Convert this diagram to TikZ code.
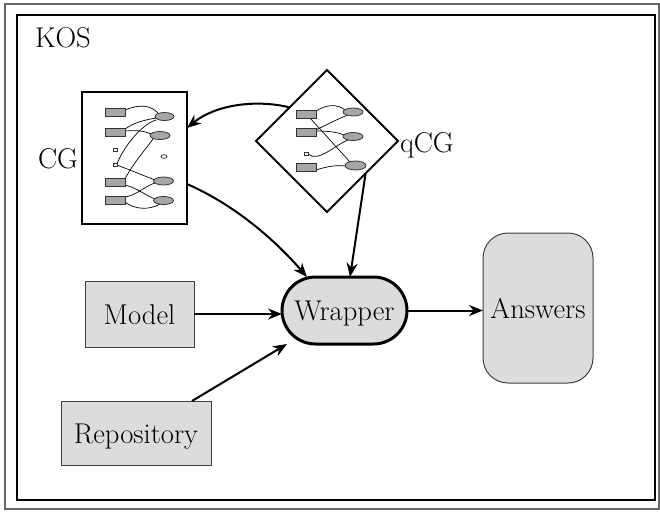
\documentclass[tikz,border=0pt]{standalone}
\usetikzlibrary{arrows.meta,shapes.geometric,calc}
\definecolor{boxfill}{HTML}{DCDCDC}
\definecolor{smallfill}{HTML}{A6A6A6}
\begin{document}
\begin{tikzpicture}[x=1pt,y=-1pt,
  every node/.style={font=\rmfamily\fontsize{28.6}{34}\selectfont, inner sep=0pt, outer sep=0pt},
  plainbox/.style={draw=black!75, line width=1pt, fill=boxfill, text height=20pt, text depth=0pt},
  arr/.style={line width=2pt, -{Stealth[length=14pt,width=11pt]}},
  gr/.style={draw=black!80, line width=0.8pt, fill=smallfill},
  ge/.style={line width=0.7pt},
]
\useasboundingbox (0,0) rectangle (660,512);
% frames
\draw[black!60, line width=1.5pt] (5,4) rectangle (659,509);
\draw[line width=2.2pt] (17,15) rectangle (655,500);
\node[anchor=base west] (kos) at (35,47) {KOS};

% CG box
\node[draw, line width=2pt, minimum width=105pt, minimum height=132pt, fill=white] (cg) at (134.5,158) {};
\node[anchor=base east] (cglab) at (78,168) {CG};
% CG inner graph
\draw[ge] (125,110) .. controls (140,104) and (150,105) .. (158,113);
\draw[ge] (125,129) .. controls (135,122) and (145,120) .. (156,118);
\draw[ge] (125,131) .. controls (137,130) and (145,131) .. (151,134);
\draw[ge] (156,120) .. controls (140,125) and (122,150) .. (117,164);
\draw[ge] (153,139) .. controls (145,150) and (132,165) .. (125,179);
\draw[ge] (117,165) -- (155,180);
\draw[ge] (125,185) .. controls (137,188) and (145,195) .. (155,199);
\draw[ge] (125,197) .. controls (137,195) and (145,186) .. (155,183);
\draw[ge] (125,202) .. controls (135,210) and (150,210) .. (160,204);
\draw[gr] (105,108) rectangle (125,116);
\draw[gr] (105,128) rectangle (125,136);
\draw[gr] (105,178) rectangle (125,186);
\draw[gr] (105,196) rectangle (125,204);
\draw[draw=black!80, line width=0.8pt, fill=white] (113,148) rectangle (117,151);
\draw[draw=black!80, line width=0.8pt, fill=white] (113,163.5) rectangle (117,166.5);
\draw[gr] (164.5,116.5) ellipse [x radius=9.5pt, y radius=4pt];
\draw[gr] (160,135.5) ellipse [x radius=10pt, y radius=4pt];
\draw[draw=black!80, line width=0.8pt, fill=white] (164,156.5) ellipse [x radius=3pt, y radius=1.8pt];
\draw[gr] (163.5,181) ellipse [x radius=10pt, y radius=4pt];
\draw[gr] (163.5,200.5) ellipse [x radius=10pt, y radius=4pt];

% qCG diamond
\node[draw, diamond, line width=2pt, minimum width=142pt, minimum height=142pt, fill=white] (qcg) at (327,141) {};
\node[anchor=base west] (qcglab) at (400,152) {qCG};
% qCG inner graph
\draw[ge] (316,111) .. controls (327,104) and (338,104) .. (345,110);
\draw[ge] (310,118) -- (350,162);
\draw[ge] (316,130) .. controls (328,124) and (340,118) .. (348,115);
\draw[ge] (316,131) .. controls (328,131) and (337,132) .. (344,135);
\draw[ge] (308,154) .. controls (318,163) and (335,145) .. (348,140);
\draw[ge] (316,170) .. controls (328,166) and (338,165) .. (345,166);
\draw[gr] (296,110) rectangle (316,118);
\draw[gr] (296,128) rectangle (316,136);
\draw[gr] (296,163) rectangle (316,171);
\draw[draw=black!80, line width=0.8pt, fill=white] (304,152) rectangle (308,155);
\draw[gr] (353,112) ellipse [x radius=10pt, y radius=4pt];
\draw[gr] (353,136.5) ellipse [x radius=10pt, y radius=4pt];
\draw[gr] (355.5,165.5) ellipse [x radius=10.5pt, y radius=4.5pt];

% main boxes
\node[plainbox, minimum width=109pt, minimum height=66pt] (model) at (139.5,314) {Model};
\node[plainbox, minimum width=150pt, minimum height=64pt] (repo) at (136,433) {Repository};
\node[plainbox, draw=black, line width=3pt, rounded corners=33.5pt, minimum width=125pt, minimum height=67pt] (wr) at (344.5,310.5) {Wrapper};
\node[plainbox, rounded corners=25pt, minimum width=110pt, minimum height=150pt] (ans) at (538,308) {Answers};

% connectors
\draw[arr] (qcg.138) .. controls (255,99) and (215,105) .. ([yshift=30pt]cg.east);
\draw[arr] ([yshift=-26pt]cg.east) .. controls (235,205) and (275,240) .. ([xshift=-37.5pt]wr.north);
\draw[arr] (qcg.-40) -- ([xshift=5.5pt]wr.north);
\draw[arr] (model.east) -- (model.east -| wr.west);
\draw[arr] ([xshift=56pt]repo.north) -- ([xshift=5pt]wr.south west);
\draw[arr] (wr.east) -- (wr.east -| ans.west);
\end{tikzpicture}
\end{document}
